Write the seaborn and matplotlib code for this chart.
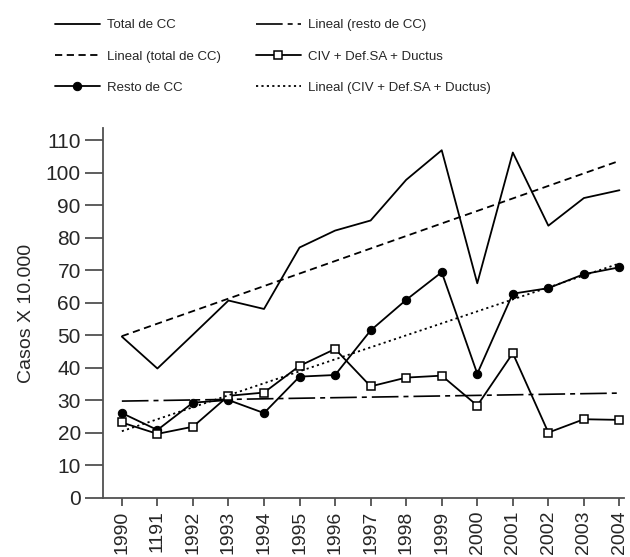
import numpy as np
import matplotlib
matplotlib.use("Agg")
import matplotlib.pyplot as plt
import seaborn as sns

# datos
anios = ['1990', '1191', '1992', '1993', '1994', '1995', '1996', '1997',
         '1998', '1999', '2000', '2001', '2002', '2003', '2004']
total_cc = [49.6, 39.8, 50.2, 60.7, 58.1, 77.0, 82.2, 85.3, 97.8, 106.9,
            66.0, 106.2, 83.7, 92.2, 94.6]
resto_cc = [26.1, 20.9, 29.3, 30.1, 26.1, 37.3, 37.8, 51.5, 60.9, 69.4,
            38.2, 62.8, 64.5, 68.8, 70.9]
civ_sa_ductus = [23.2, 19.7, 21.9, 31.4, 32.4, 40.6, 45.8, 34.3, 37.0, 37.6,
                 28.4, 44.5, 20.1, 24.2, 24.0]

sns.set_style("ticks")
plt.rcParams['font.family'] = ['Liberation Sans', 'DejaVu Sans']

x = np.arange(len(anios))
gris = '#505050'

fig = plt.figure(figsize=(6.3, 5.57), dpi=100)
ax = fig.add_axes([0.1635, 0.106, 0.8265, 0.664])

lw = 1.3
sns.lineplot(x=x, y=total_cc, ax=ax, color='black', lw=lw,
             label='Total de CC', legend=False)
sns.regplot(x=x, y=total_cc, ax=ax, scatter=False, ci=None, color='black',
            label='Lineal (total de CC)',
            line_kws={'lw': lw, 'dashes': (4, 2.5)})
sns.lineplot(x=x, y=resto_cc, ax=ax, color='black', lw=lw, marker='o',
             markersize=6, markeredgecolor='black', label='Resto de CC',
             legend=False)
# en el original los estilos de las dos tendencias estan cruzados
sns.regplot(x=x, y=civ_sa_ductus, ax=ax, scatter=False, ci=None, color='black',
            label='Lineal (resto de CC)',
            line_kws={'lw': 1.2, 'dashes': (16, 3, 3, 3)})
sns.lineplot(x=x, y=civ_sa_ductus, ax=ax, color='black', lw=lw, marker='s',
             markersize=5.5, markerfacecolor='white', markeredgecolor='black',
             markeredgewidth=1.1, label='CIV + Def.SA + Ductus', legend=False)
sns.regplot(x=x, y=resto_cc, ax=ax, scatter=False, ci=None, color='black',
            label='Lineal (CIV + Def.SA + Ductus)',
            line_kws={'lw': 1.3, 'dashes': (1.2, 1.8)})

ax.set_xlim(-0.53, 14.12)
ax.set_ylim(0, 113.7)
ax.set_yticks(np.arange(0, 111, 10))
ax.set_xticks(x)
ax.set_xticklabels(anios, rotation=90, fontsize=14)
ax.tick_params(axis='y', labelsize=15, length=13, width=1.3, color=gris, pad=3)
ax.tick_params(axis='x', length=6, width=1.3, color=gris, pad=3)
ax.set_ylabel('Casos X 10.000', fontsize=14, labelpad=8)
ax.set_xlabel('')
for s in ['top', 'right']:
    ax.spines[s].set_visible(False)
for s in ['left', 'bottom']:
    ax.spines[s].set_color(gris)
    ax.spines[s].set_linewidth(1.3)

handles, labels = ax.get_legend_handles_labels()
orden = ['Total de CC', 'Lineal (total de CC)', 'Resto de CC',
         'Lineal (resto de CC)', 'CIV + Def.SA + Ductus',
         'Lineal (CIV + Def.SA + Ductus)']
h = [handles[labels.index(n)] for n in orden]
fig.legend(h, orden, loc='upper left', bbox_to_anchor=(0.087, 0.966), ncol=2,
           frameon=False, fontsize=9.5, handlelength=3.4, handletextpad=0.55,
           columnspacing=2.65, labelspacing=1.45, borderpad=0, borderaxespad=0)

fig.savefig('out.png', dpi=100)
